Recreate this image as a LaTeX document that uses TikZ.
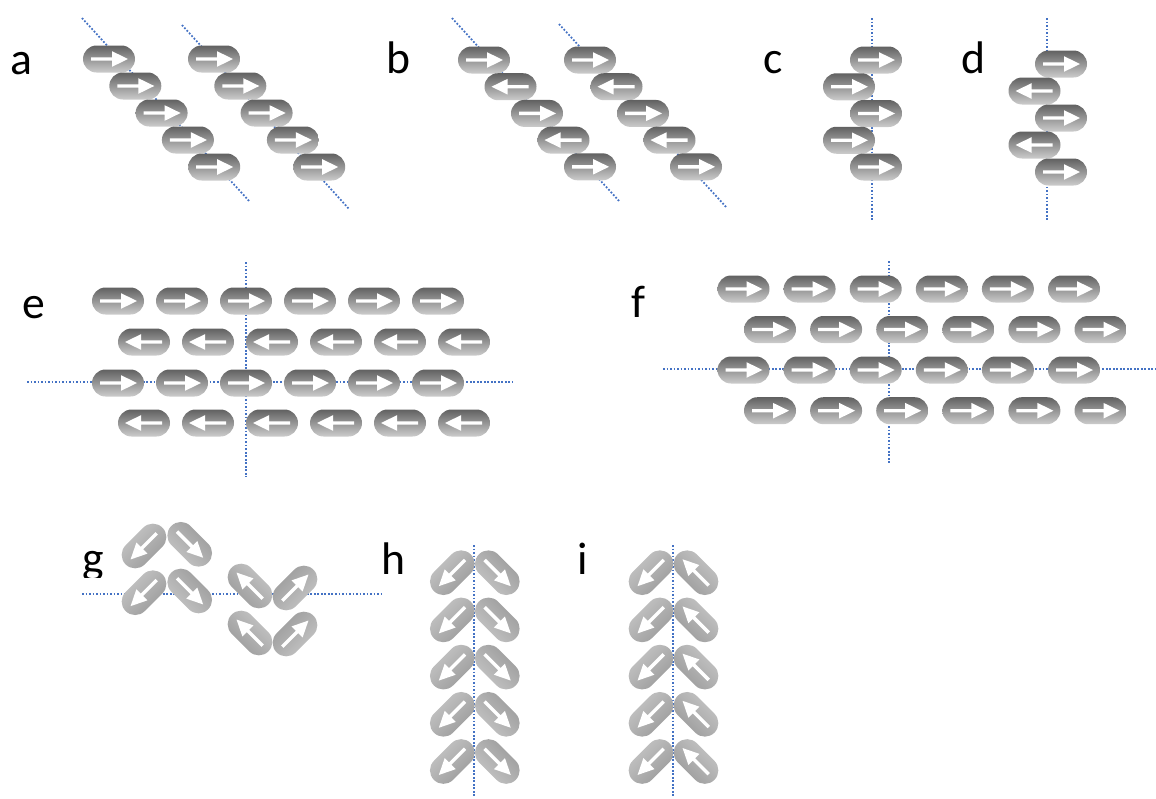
\documentclass[tikz,border=0pt]{standalone}
\usepackage{fontspec}
\setmainfont{Carlito}
\definecolor{guideblue}{RGB}{68,114,196}
\tikzset{
  guide/.style={guideblue, line width=1pt, dash pattern=on 1pt off 1pt}, % dotted axis lines
  darkpill/.style={top color=black!62, bottom color=black!20}, % flat rows
  lightpill/.style={top color=black!40, bottom color=black!22}, % tilted ones
  panel/.style={font=\fontsize{26}{30}\selectfont, anchor=base}, % letters
}
% capsule with a white arrow: style, x, y, angle, arrow sign (1 or -1)
\newcommand\capsule[5]{%
  \begin{scope}[shift={({#2},{-(#3)})}, rotate=#4]
    \shade[#1, shading angle=#4] (-12.5,13.5) arc (90:270:13.5)
      -- (12.5,-13.5) arc (-90:90:13.5) -- cycle;
    \fill[white, xscale=#5] (-18,-1.7) -- (3,-1.7) -- (3,-7.8) -- (19,0)
      -- (3,7.8) -- (3,1.7) -- (-18,1.7) -- cycle;
  \end{scope}}

\begin{document}
\begin{tikzpicture}[x=0.02cm, y=0.02cm]
  \useasboundingbox (0,0) rectangle (1156,-798);

  % a
  \node[panel] (labela) at (21,-74) {a};
  \draw[guide] (82,-18) -- (250,-202);
  \draw[guide] (182,-25) -- (349,-209);
  \foreach \k in {0,...,4} {
    \capsule{darkpill}{109+26.3*\k}{59+27*\k}{0}{1}
    \capsule{darkpill}{214+26.3*\k}{59+27*\k}{0}{1}
  }

  % b
  \node[panel] (labelb) at (398,-73) {b};
  \draw[guide] (452,-18) -- (620,-202);
  \draw[guide] (559,-24) -- (727,-208);
  \foreach \k/\f in {0/1,1/-1,2/1,3/-1,4/1} {
    \capsule{darkpill}{484+26.5*\k}{60+26.7*\k}{0}{\f}
    \capsule{darkpill}{590+26.5*\k}{60+26.7*\k}{0}{\f}
  }

  % c
  \node[panel] (labelc) at (773,-73) {c};
  \draw[guide] (872,-18) -- (872,-220);
  \foreach \k/\x in {0/876,1/849,2/876,3/849,4/876}
    \capsule{darkpill}{\x}{60+26.75*\k}{0}{1};

  % d
  \node[panel] (labeld) at (973,-73) {d};
  \draw[guide] (1047,-18) -- (1047,-220);
  \foreach \k/\x/\f in {0/1061/1,1/1034.5/-1,2/1061/1,3/1034.5/-1,4/1061/1}
    \capsule{darkpill}{\x}{64+27*\k}{0}{\f};

  % e
  \node[panel] (labele) at (34,-318) {e};
  \draw[guide] (246,-262) -- (246,-477);
  \draw[guide] (27,-382) -- (513,-382);
  \foreach \j in {0,...,5} {
    \capsule{darkpill}{118+64*\j}{301}{0}{1}
    \capsule{darkpill}{144+64*\j}{342}{0}{-1}
    \capsule{darkpill}{118+64*\j}{383}{0}{1}
    \capsule{darkpill}{144+64*\j}{423}{0}{-1}
  }

  % f
  \node[panel] (labelf) at (638.5,-317) {f};
  \draw[guide] (889,-261) -- (889,-463);
  \draw[guide] (663,-369) -- (1156,-369);
  \foreach \j in {0,...,5} {
    \capsule{darkpill}{743.5+66.1*\j}{289}{0}{1}
    \capsule{darkpill}{770+66.1*\j}{329.5}{0}{1}
    \capsule{darkpill}{743.5+66.1*\j}{370}{0}{1}
    \capsule{darkpill}{770+66.1*\j}{410.7}{0}{1}
  }

  % g
  \begin{scope}
    \clip (60,-530) rectangle (130,-577);
    \node[panel] (labelg) at (93,-573) {g};
  \end{scope}
  \draw[guide] (82,-594) -- (383,-594);
  \foreach \x/\y/\a in {144/546/225, 189.7/544.3/-45, 144/592.7/225,
      189.7/591/-45, 250/586/135, 295/588/45, 250/633/135, 295/634/45}
    \capsule{lightpill}{\x}{\y}{\a}{1};

  % h
  \node[panel] (labelh) at (393,-574) {h};
  \draw[guide] (474,-545) -- (474,-798);
  \foreach \k in {0,...,4} {
    \capsule{lightpill}{452.3}{572.7+47.2*\k}{225}{1}
    \capsule{lightpill}{497.3}{572.7+47.2*\k}{-45}{1}
  }

  % i
  \node[panel] (labeli) at (583,-574) {i};
  \draw[guide] (672.7,-545) -- (672.7,-798);
  \foreach \k in {0,...,4} {
    \capsule{lightpill}{651}{572.7+47.2*\k}{225}{1}
    \capsule{lightpill}{696}{572.7+47.2*\k}{135}{1}
  }
\end{tikzpicture}
\end{document}
